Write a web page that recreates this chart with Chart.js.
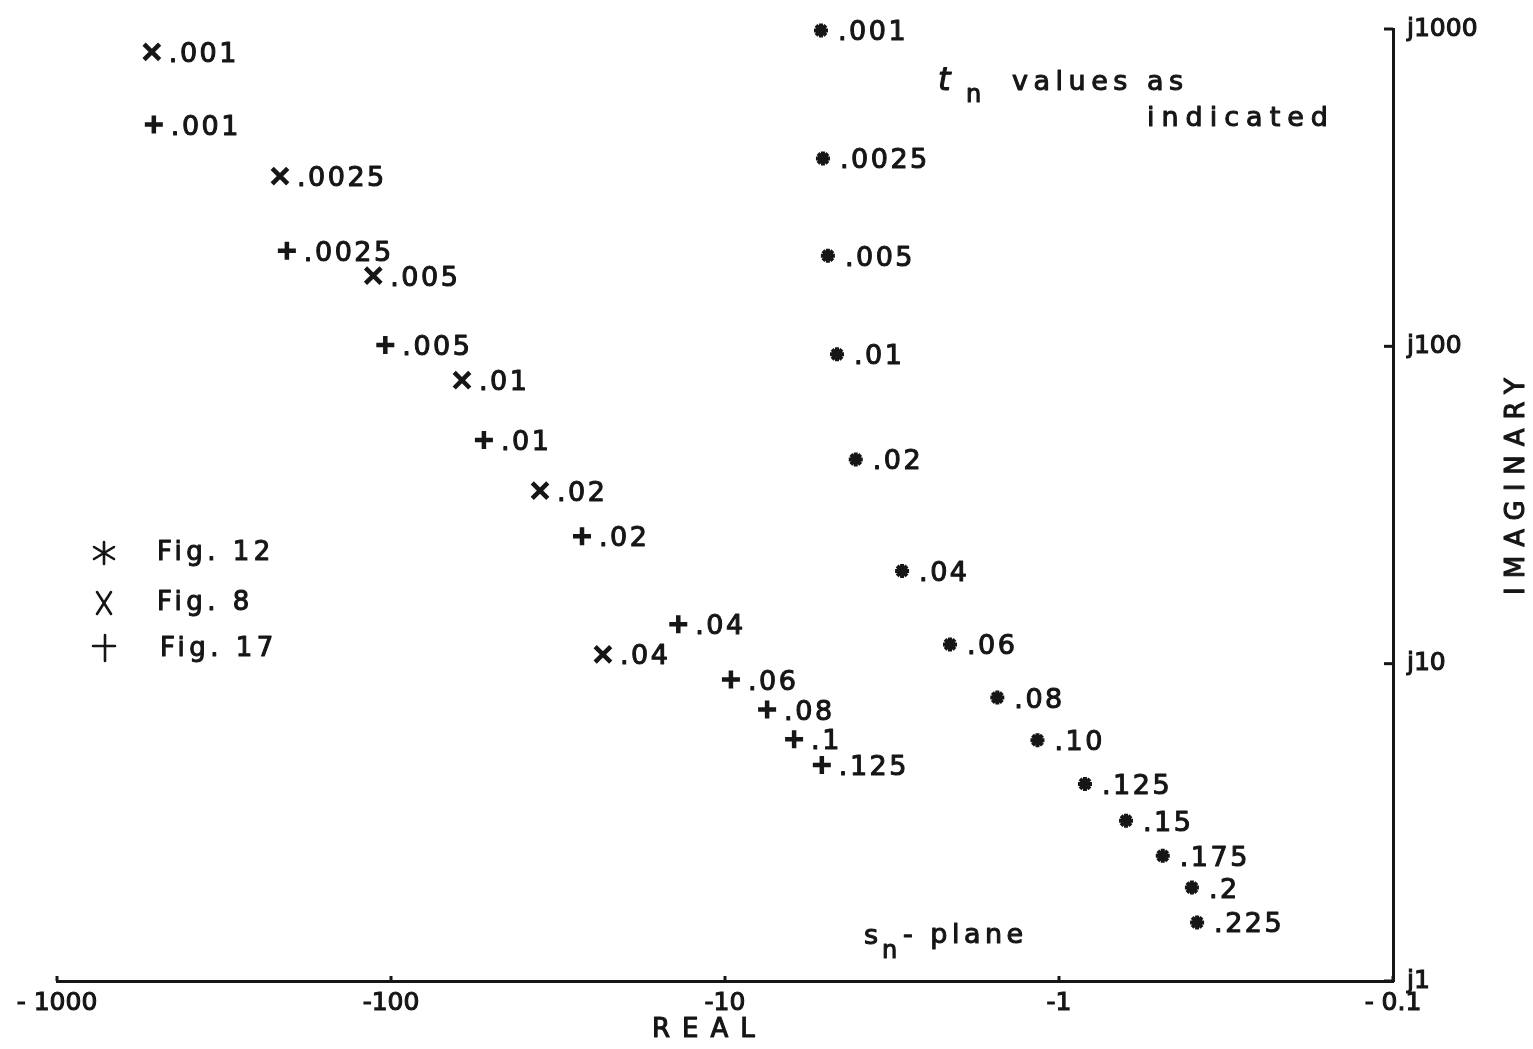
<!DOCTYPE html>
<html>
<head>
<meta charset="utf-8">
<script src="https://cdn.jsdelivr.net/npm/chart.js@4.4.1/dist/chart.umd.min.js"></script>
<style>
  html, body { margin: 0; padding: 0; background: #fff; }
  canvas { display: block; }
</style>
</head>
<body>
<canvas id="chart" width="1533" height="1049"></canvas>
<script>
// s_n-plane roots. Real axis holds the magnitude of the (negative) real part.
const fig12Re = [5.16, 5.09, 4.92, 4.62, 4.06, 2.95, 2.12, 1.53, 1.16, 0.836, 0.630, 0.489, 0.400, 0.386];
const fig12Im = [990, 391, 193, 94.4, 44.0, 19.6, 11.5, 7.82, 5.74, 4.18, 3.20, 2.48, 1.97, 1.53];
const fig12Tn = ['.001', '.0025', '.005', '.01', '.02', '.04', '.06', '.08', '.10', '.125', '.15', '.175', '.2', '.225'];

const fig8Re = [520, 215, 113, 61.3, 35.8, 23.2];
const fig8Im = [847, 344, 167, 78.2, 35.1, 10.7];
const fig8Tn = ['.001', '.0025', '.005', '.01', '.02', '.04'];

const fig17Re = [513, 205, 104, 52.7, 26.8, 13.8, 9.6, 7.48, 6.21, 5.13];
const fig17Im = [500, 200, 101, 50.7, 25.2, 13.3, 8.91, 7.17, 5.78, 4.79];
const fig17Tn = ['.001', '.0025', '.005', '.01', '.02', '.04', '.06', '.08', '.1', '.125'];

const seriesNames = ['Fig. 12', 'Fig. 8', 'Fig. 17'];

const realTicks = [1000, 100, 10, 1, 0.1];
const realTickLabels = ['- 1000', '-100', '-10', '-1', '- 0.1'];
const imagTicks = [1000, 100, 10, 1];
const imagTickLabels = ['j1000', 'j100', 'j10', 'j1'];

const ink = '#161616';
const face = '"DejaVu Sans", "Liberation Sans", sans-serif';

function points(re, im) {
  return re.map(function (x, i) { return { x: x, y: im[i] }; });
}

function line(ctx, x1, y1, x2, y2) {
  ctx.beginPath();
  ctx.moveTo(x1, y1);
  ctx.lineTo(x2, y2);
  ctx.stroke();
}

// text helper, spaced out and a bit heavier like the pen lettering
function say(ctx, text, x, y, size, spacing, opts) {
  opts = opts || {};
  ctx.save();
  ctx.font = (opts.style || '') + ' ' + size + 'px ' + face;
  ctx.letterSpacing = spacing + 'px';
  ctx.textBaseline = 'middle';
  ctx.textAlign = opts.align || 'left';
  ctx.fillStyle = ink;
  ctx.strokeStyle = ink;
  ctx.lineWidth = 1.1;
  ctx.lineJoin = 'round';
  if (opts.rotate) {
    ctx.translate(x, y);
    ctx.rotate(opts.rotate);
    x = 0;
    y = 0;
  }
  ctx.fillText(text, x, y);
  ctx.strokeText(text, x, y);
  ctx.restore();
}

const sketchPlugin = {
  id: 'sketch',
  afterDatasetsDraw(chart) {
    const ctx = chart.ctx;
    // t_n value next to each point
    chart.data.datasets.forEach(function (ds, di) {
      const meta = chart.getDatasetMeta(di);
      meta.data.forEach(function (pt, i) {
        say(ctx, ds.tn[i], pt.x + 17, pt.y + 3, 27, 2.5);
      });
    });
  },
  afterDraw(chart) {
    const ctx = chart.ctx;
    const ca = chart.chartArea;
    const xs = chart.scales.x;
    const ys = chart.scales.y;

    ctx.save();
    ctx.strokeStyle = ink;
    ctx.lineWidth = 3;
    // small inward tick marks at the decades
    realTicks.forEach(function (v) {
      const px = xs.getPixelForValue(v);
      line(ctx, px, ca.bottom, px, ca.bottom - 5);
    });
    imagTicks.forEach(function (v) {
      const py = ys.getPixelForValue(v);
      line(ctx, ca.right, py, ca.right - 9, py);
    });

    // legend, hand drawn symbols
    ctx.lineWidth = 2.6;
    ctx.lineCap = 'round';
    const lx = 104;
    const ly = [553, 603, 649];
    // asterisk
    line(ctx, lx, ly[0] - 11, lx, ly[0] + 11);
    line(ctx, lx - 10, ly[0] - 6, lx + 10, ly[0] + 6);
    line(ctx, lx - 10, ly[0] + 6, lx + 10, ly[0] - 6);
    // X
    line(ctx, lx - 7, ly[1] - 11, lx + 7, ly[1] + 11);
    line(ctx, lx + 7, ly[1] - 11, lx - 7, ly[1] + 11);
    // +
    line(ctx, lx - 11, ly[2] - 3, lx + 11, ly[2] - 3);
    line(ctx, lx + 1, ly[2] - 14, lx + 1, ly[2] + 12);
    ctx.restore();

    chart.data.datasets.forEach(function (ds, i) {
      say(ctx, ds.label, i === 2 ? 160 : 157, ly[i], 26, 4.5);
    });

    // notes
    say(ctx, 't', 938, 82, 32, 0, { style: 'italic' });
    say(ctx, 'n', 966, 96, 24, 0);
    say(ctx, 'values as', 1012, 83, 27, 5.5);
    say(ctx, 'indicated', 1147, 119, 27, 7);

    say(ctx, 's', 864, 937, 27, 0);
    say(ctx, 'n', 882, 952, 24, 0);
    say(ctx, '- plane', 903, 936, 27, 4.5);

    // axis names
    say(ctx, 'REAL', 652, 1030, 26, 12);
    say(ctx, 'IMAGINARY', 1517, 482, 26, 9, { align: 'center', rotate: -Math.PI / 2 });
  }
};

function marker(style, radius, width) {
  return {
    pointStyle: style,
    radius: radius,
    borderWidth: width,
    borderColor: ink,
    backgroundColor: ink,
    showLine: false,
    clip: false
  };
}

const ds12 = Object.assign({ label: seriesNames[0], data: points(fig12Re, fig12Im), tn: fig12Tn }, marker('star', 7, 4));
const ds8 = Object.assign({ label: seriesNames[1], data: points(fig8Re, fig8Im), tn: fig8Tn }, marker('crossRot', 11, 4.5));
const ds17 = Object.assign({ label: seriesNames[2], data: points(fig17Re, fig17Im), tn: fig17Tn }, marker('cross', 9, 4.5));

const tickFont = { family: face, size: 25 };

new Chart(document.getElementById('chart'), {
  type: 'scatter',
  data: { datasets: [ds12, ds8, ds17] },
  options: {
    responsive: false,
    animation: false,
    devicePixelRatio: 1,
    layout: { padding: { left: 57, top: 24, right: 0, bottom: 0 } },
    plugins: { legend: { display: false }, tooltip: { enabled: false } },
    scales: {
      x: {
        type: 'logarithmic',
        reverse: true,
        min: 0.1,
        max: 1000,
        afterBuildTicks: function (scale) {
          scale.ticks = realTicks.map(function (v) { return { value: v }; });
        },
        afterFit: function (scale) { scale.height = 68; },
        ticks: {
          autoSkip: false,
          maxRotation: 0,
          padding: 7,
          color: ink,
          textStrokeColor: ink,
          textStrokeWidth: 1.1,
          font: tickFont,
          callback: function (value, index) { return realTickLabels[index]; }
        },
        grid: { display: true, drawOnChartArea: false, drawTicks: false },
        border: { display: true, color: ink, width: 3 }
      },
      y: {
        type: 'logarithmic',
        position: 'right',
        min: 1,
        max: 1000,
        afterBuildTicks: function (scale) {
          scale.ticks = imagTicks.map(function (v) { return { value: v }; });
        },
        afterFit: function (scale) { scale.width = 140; },
        ticks: {
          autoSkip: false,
          padding: 14,
          color: ink,
          textStrokeColor: ink,
          textStrokeWidth: 1.1,
          font: tickFont,
          callback: function (value, index) { return imagTickLabels[index]; }
        },
        grid: { display: true, drawOnChartArea: false, drawTicks: false },
        border: { display: true, color: ink, width: 3 }
      }
    }
  },
  plugins: [sketchPlugin]
});
</script>
</body>
</html>
